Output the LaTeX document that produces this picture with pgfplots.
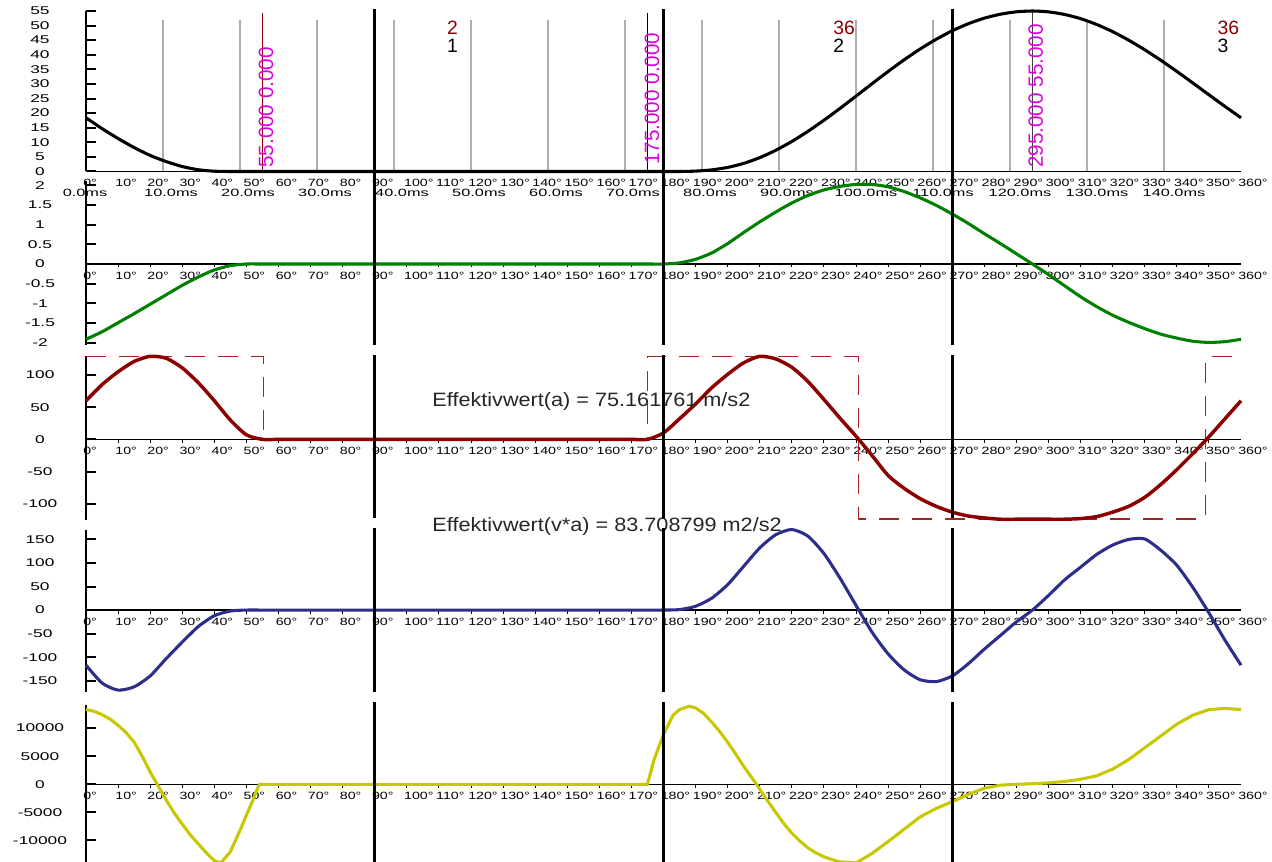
\documentclass[border=0pt]{standalone}
\usepackage{fontspec}
\setmainfont{Liberation Sans}
\newfontfamily\yfont[FakeStretch=1.55]{Liberation Sans}
\newfontfamily\xfont[FakeStretch=1.35]{Liberation Sans}
\newfontfamily\efont[FakeStretch=1.12]{Liberation Sans}
\usepackage{pgfplots}
\pgfplotsset{compat=1.18}
\definecolor{cRed}{RGB}{140,0,0}
\definecolor{cGreen}{RGB}{0,128,0}
\definecolor{cBlue}{RGB}{45,45,140}
\definecolor{cYellow}{RGB}{200,200,0}
\definecolor{cMag}{RGB}{220,0,220}
\definecolor{cDash}{RGB}{165,35,35}
\definecolor{cGrid}{RGB}{175,175,175}
\pgfplotsset{
  panel/.style={
    scale only axis, width=866.25pt, xmin=0, xmax=360, clip=false,
    axis x line=middle, axis y line=left,
    axis line style={-, black},
    x axis line style={line width=1.1pt},
    y axis line style={line width=1.5pt},
    scaled ticks=false,
    hide obscured x ticks=false, hide obscured y ticks=false,
    xtick={0,10,...,360},
    xticklabels={0°,10°,20°,30°,40°,50°,60°,70°,80°,90°,100°,110°,120°,130°,140°,150°,160°,170°,180°,190°,200°,210°,220°,230°,240°,250°,260°,270°,280°,290°,300°,310°,320°,330°,340°,350°,360°},
    xtick style={draw=none},
    major tick length=7.5pt, tick align=inside,
    y tick style={black, line width=1.5pt},
    xticklabel style={font=\xfont\fontsize{7.9pt}{8pt}\selectfont, anchor=west, inner sep=0pt, xshift=-2.25pt, yshift=-8.8pt},
    yticklabel style={font=\yfont\fontsize{8.4pt}{9pt}\selectfont, anchor=center, inner sep=0pt, xshift=-34.5pt},
    every axis plot/.append style={line width=2.3pt, line join=round},
  },
}
\newcommand\tinyticks{\pgfplotsinvokeforeach{10,20,...,350}{\draw[line width=0.75pt] (axis cs:##1,0) -- ([yshift=-2.6pt]axis cs:##1,0);}}
\begin{document}
\begin{tikzpicture}
\useasboundingbox (0,0) rectangle (954pt,-646.5pt);

% ---------------- Panel 1: displacement
\begin{axis}[panel, at={(64.5pt,-128.625pt)}, anchor=south west, height=120.375pt,
  ymin=0, ymax=55, ytick={0,5,...,55}, yticklabels={0,5,10,15,20,25,30,35,40,45,50,55}]
\pgfplotsinvokeforeach{24,48,...,336}{\draw[cGrid, line width=1.1pt] (axis cs:#1,0) -- (axis cs:#1,52);}
\draw[cRed, line width=1.1pt] (axis cs:55,0) -- (axis cs:55,54.4);
\draw[black, line width=1.1pt] (axis cs:175,0) -- (axis cs:175,54.4);
\draw[black!75, line width=1.1pt] (axis cs:295,0) -- (axis cs:295,54.8);
\addplot[black, smooth, tension=0.4] coordinates {(0,18.4)(5,14.7)(10,11.3)(15,8.2)(20,5.5)(25,3.4)(30,1.7)(35,0.6)(40,0.1)(45,0)(50,0)(55,0)(175,0)(180,0)(185,0)(190,0.13)(195,0.55)(200,1.4)(205,2.78)(210,4.75)(215,7.27)(220,10.29)(225,13.75)(230,17.56)(235,21.62)(240,25.82)(245,30.08)(250,34.26)(255,38.27)(260,41.98)(265,45.31)(270,48.23)(275,50.64)(280,52.55)(285,53.9)(290,54.72)(295,55)(300,54.7)(305,53.82)(310,52.38)(315,50.39)(320,47.92)(325,45)(330,41.71)(335,38.12)(340,34.29)(345,30.32)(350,26.29)(355,22.29)(360,18.4)};
\begin{scope}[every node/.style={font=\fontsize{15.5pt}{16pt}\selectfont, text=cMag, rotate=90, anchor=west, inner sep=0pt}]
\node at (axis cs:56.1,1.2) {55.000 0.000};
\node at (axis cs:176.4,2.2) {175.000 0.000};
\node at (axis cs:296,1.2) {295.000 55.000};
\end{scope}
\begin{scope}[every node/.style={font=\fontsize{14.5pt}{15pt}\selectfont, anchor=west, inner sep=0pt}]
\node[text=cRed] at (axis cs:112.5,49.3) {2};
\node[text=black] at (axis cs:112.5,43.1) {1};
\node[text=cRed] at (axis cs:232.9,49.3) {36};
\node[text=black] at (axis cs:232.9,43.1) {2};
\node[text=cRed] at (axis cs:352.6,49.3) {36};
\node[text=black] at (axis cs:352.6,43.1) {3};
\end{scope}
\begin{scope}[every node/.style={font=\yfont\fontsize{7.9pt}{8pt}\selectfont, inner sep=0pt, yshift=-16.1pt}]
\node[xshift=-0.75pt] at (axis cs:0,0) {0.0ms};
\node[xshift=6pt] at (axis cs:24,0) {10.0ms};
\node[xshift=6pt] at (axis cs:48,0) {20.0ms};
\node[xshift=6pt] at (axis cs:72,0) {30.0ms};
\node[xshift=6pt] at (axis cs:96,0) {40.0ms};
\node[xshift=6pt] at (axis cs:120,0) {50.0ms};
\node[xshift=6pt] at (axis cs:144,0) {60.0ms};
\node[xshift=6pt] at (axis cs:168,0) {70.0ms};
\node[xshift=6pt] at (axis cs:192,0) {80.0ms};
\node[xshift=6pt] at (axis cs:216,0) {90.0ms};
\node[xshift=7.5pt] at (axis cs:240,0) {100.0ms};
\node[xshift=7.5pt] at (axis cs:264,0) {110.0ms};
\node[xshift=7.5pt] at (axis cs:288,0) {120.0ms};
\node[xshift=7.5pt] at (axis cs:312,0) {130.0ms};
\node[xshift=7.5pt] at (axis cs:336,0) {140.0ms};
\end{scope}
\pgfplotsinvokeforeach{90,180,270}{\draw[line width=2.25pt] (axis cs:#1,55.7) -- (axis cs:#1,-4.63);}
\end{axis}

% ---------------- Panel 2: velocity
\begin{axis}[panel, at={(64.5pt,-258.9pt)}, anchor=south west, height=122.93pt,
  ymin=-2.06, ymax=2.1, ytick={-2,-1.5,-1,-0.5,0,0.5,1,1.5,2}, yticklabels={-2,-1.5,-1,-0.5,0,0.5,1,1.5,2}]
\tinyticks
\addplot[cGreen, smooth, tension=0.4] coordinates {(0,-1.91)(5,-1.72)(10,-1.49)(15,-1.26)(20,-1.02)(25,-0.78)(30,-0.54)(35,-0.33)(40,-0.15)(45,-0.04)(50,0)(55,0)(60,0)(170,0)(175,0)(180,0)(185,0.03)(190,0.12)(195,0.28)(200,0.52)(205,0.8)(210,1.07)(215,1.32)(220,1.55)(225,1.74)(230,1.88)(235,1.97)(240,2.02)(245,2.02)(250,1.96)(255,1.84)(260,1.68)(265,1.49)(270,1.27)(275,1.03)(280,0.77)(285,0.52)(290,0.26)(295,0)(300,-0.27)(305,-0.55)(310,-0.83)(315,-1.08)(320,-1.3)(325,-1.48)(330,-1.64)(335,-1.78)(340,-1.88)(345,-1.96)(350,-1.99)(355,-1.97)(360,-1.91)};
\pgfplotsinvokeforeach{90,180,270}{\draw[line width=2.25pt] (axis cs:#1,2.1) -- (axis cs:#1,-2.06);}
\end{axis}

% ---------------- Panel 3: acceleration
\begin{axis}[panel, at={(64.5pt,-390pt)}, anchor=south west, height=123pt,
  ymin=-125.2, ymax=129.5, ytick={-100,-50,0,50,100}, yticklabels={-100,-50,0,50,100}]
\tinyticks
\addplot[cDash, line width=1.1pt, dash pattern=on 15pt off 9.75pt] coordinates {(0,129)(55.3,129)(55.3,0)(175,0)(175,129)(240.8,129)(240.8,-123.5)(349,-123.5)(349,129)(360,129)};
\addplot[cRed, line width=2.6pt, smooth, tension=0.4] coordinates {(0,60)(5,85)(10,105)(15,121)(20,129)(25,126)(30,111)(35,88)(40,60)(45,30)(50,7)(55,0)(60,0)(65,0)(165,0)(170,0)(175,0)(180,10)(185,32)(190,55)(195,80)(200,101)(205,119)(210,129)(215,125)(220,112)(225,90)(230,62)(235,33)(240,5)(245,-25)(250,-56)(255,-76)(260,-92)(265,-104)(270,-113)(275,-119)(280,-122)(285,-124)(290,-124)(295,-124)(300,-124)(305,-124)(310,-123)(315,-120)(320,-113)(325,-104)(330,-90)(335,-70)(340,-47)(345,-22)(350,4)(355,32)(360,60)};
\node[font=\efont\fontsize{14.5pt}{16pt}\selectfont, anchor=west, inner sep=0pt, text=black!85] at (axis cs:107.9,59.6) {Effektivwert(a) = 75.161761 m/s2};
\node[font=\efont\fontsize{14.5pt}{16pt}\selectfont, anchor=west, inner sep=0pt, text=black!85] at (axis cs:107.9,-136) {Effektivwert(v*a) = 83.708799 m2/s2};
\pgfplotsinvokeforeach{90,180,270}{\draw[line width=2.25pt] (axis cs:#1,131.1) -- (axis cs:#1,-122);}
\end{axis}

% ---------------- Panel 4: v*a
\begin{axis}[panel, at={(64.5pt,-519pt)}, anchor=south west, height=121.5pt,
  ymin=-174, ymax=170, ytick={-150,-100,-50,0,50,100,150}, yticklabels={-150,-100,-50,0,50,100,150}]
\tinyticks
\addplot[cBlue, smooth, tension=0.4] coordinates {(0,-117)(5,-155)(10,-170)(15,-163)(20,-140)(25,-103)(30,-68)(35,-35)(40,-12)(45,-2)(50,0)(55,0)(60,0)(170,0)(175,0)(180,0)(185,1)(190,8)(195,25)(200,54)(205,93)(210,132)(215,160)(220,171)(225,157)(230,120)(235,68)(240,10)(245,-47)(250,-93)(255,-127)(260,-148)(265,-152)(270,-140)(275,-114)(280,-83)(285,-54)(290,-25)(295,0)(300,31)(305,64)(310,91)(315,118)(320,138)(325,150)(330,151)(335,127)(340,95)(345,48)(350,-6)(355,-64)(360,-117)};
\pgfplotsinvokeforeach{90,180,270}{\draw[line width=2.25pt] (axis cs:#1,174.1) -- (axis cs:#1,-174);}
\end{axis}

% ---------------- Panel 5: jerk
\begin{axis}[panel, at={(64.5pt,-646.5pt)}, anchor=south west, height=117.7pt,
  ymin=-13830, ymax=14100, ytick={-10000,-5000,0,5000,10000}, yticklabels={-10000,-5000,0,5000,10000}]
\tinyticks
\addplot[cYellow] coordinates {(0,13300)(2.5,13000)(5,12400)(7.5,11600)(10,10500)(12.5,9200)(15,7500)(17.5,5000)(20,2200)(22.5,-300)(25,-2800)(27.5,-5100)(30,-7100)(32.5,-9000)(35,-10600)(37.5,-12200)(40,-13600)(42,-14000)(45,-12000)(48,-8200)(50,-5500)(52,-2860)(54,0)(175,0)(177,4300)(180,8900)(183,12300)(185,13300)(188,13900)(190,13600)(192.5,12600)(195,11100)(197.5,9400)(200,7500)(202.5,5400)(205,3200)(209,0)(210,-900)(212.5,-3000)(215,-5000)(217.5,-7000)(220,-8700)(222.5,-10100)(225,-11300)(227.5,-12200)(230,-12900)(232.5,-13400)(235,-13800)(240,-14000)(245,-12300)(250,-10200)(255,-8000)(260,-5800)(265,-4300)(270,-3100)(275,-1800)(280,-700)(285,-150)(290,0)(295,100)(300,250)(305,500)(310,900)(315,1500)(320,2700)(325,4400)(330,6500)(335,8600)(340,10700)(345,12300)(350,13300)(355,13500)(360,13300)};
\pgfplotsinvokeforeach{90,180,270}{\draw[line width=2.25pt] (axis cs:#1,14644) -- (axis cs:#1,-13830);}
\end{axis}
\end{tikzpicture}
\end{document}
